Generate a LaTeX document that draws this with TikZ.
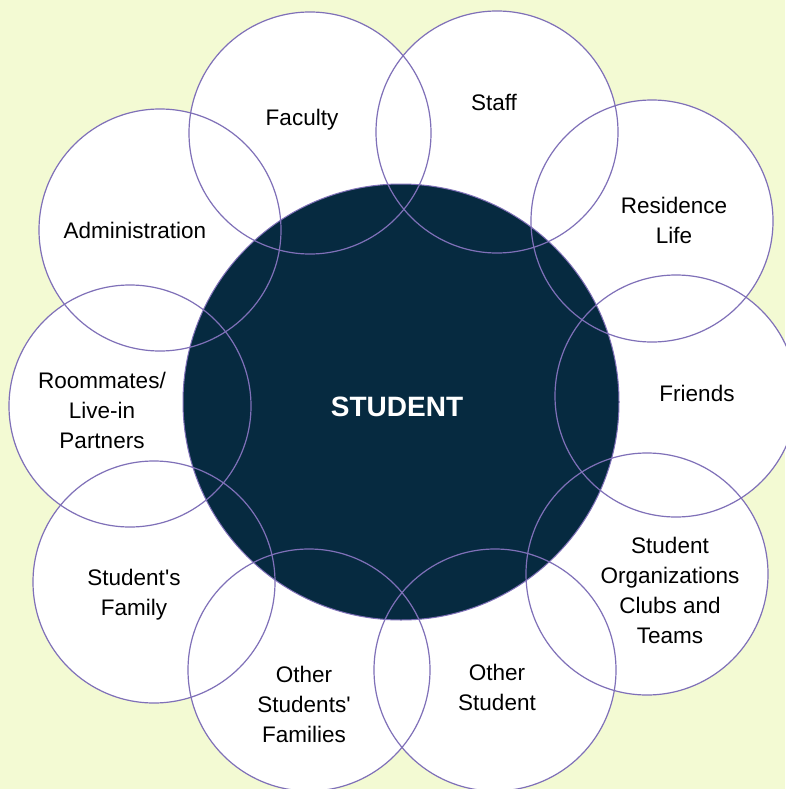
\documentclass[tikz,border=0pt]{standalone}
\usepackage{fontspec}
\setmainfont{Liberation Sans}
\definecolor{paper}{HTML}{F3FAD3}
\definecolor{navy}{HTML}{062A40}
\definecolor{rim}{HTML}{7F70B8}
\tikzset{
  orbit/.style={circle,inner sep=0pt,minimum size=242pt,fill=white},
  lbl/.style={align=center,inner sep=0pt,font=\fontsize{22.5}{30}\selectfont},
}

\begin{document}
\begin{tikzpicture}[x=1pt,y=-1pt]
    \fill[paper] (0,0) rectangle (785,789);
    \useasboundingbox (0,0) rectangle (785,789);

    % white discs first, the dark centre goes over them
    \foreach \n/\x/\y in {fac/310/133, sta/497/132, res/652/221, fri/676/396,
                          org/647/574, oth/495/670, ofam/309/670, fam/154/582,
                          room/130/406, adm/160/230}
      \node[orbit] (\n) at (\x,\y) {};

    \node[circle,inner sep=0pt,minimum size=436pt,fill=navy,draw=rim,line width=1pt]
      (student) at (401,402) {};

    % rims on top of everything
    \foreach \n in {fac,sta,res,fri,org,oth,ofam,fam,room,adm}
      \draw[rim,line width=1.2pt] (\n.center) circle[radius=121];

    \path
    (302,120) node[lbl] (facL) {Faculty}
    (494,102) node[lbl] (staL) {Staff}
    (674,220) node[lbl] (resL) {Residence\\Life}
    (697,393) node[lbl] (friL) {Friends}
    (670,590) node[lbl] (orgL) {Student\\Organizations\\Clubs and\\Teams}
    (497,687) node[lbl] (othL) {Other\\Student}
    (304,704) node[lbl] (ofamL) {Other\\Students\textquotesingle\\Families}
    (134,595) node[lbl] (famL) {Student\textquotesingle s\\Family}
    (102,410) node[lbl] (roomL) {Roommates/\\Live-in\\Partners}
    (135,230) node[lbl] (admL) {Administration}
    ;

    \node[text=white,inner sep=0pt,font=\fontsize{28}{28}\bfseries\selectfont]
      (studentL) at (397,407) {STUDENT};
\end{tikzpicture}
\end{document}
